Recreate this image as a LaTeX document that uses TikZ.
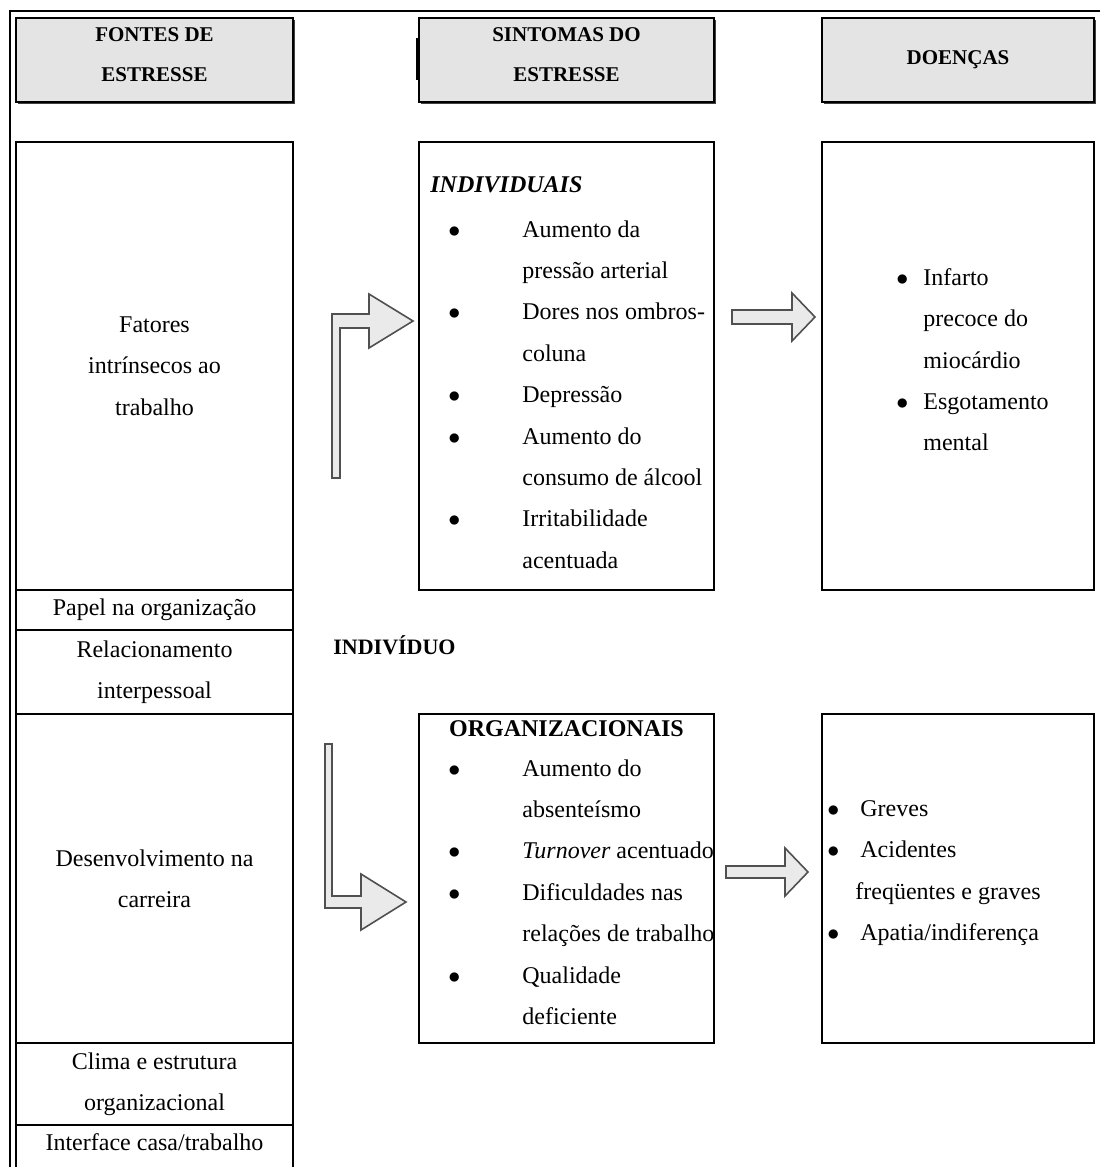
\documentclass[tikz,border=0pt]{standalone}
\usepackage{fontspec}
\setmainfont{Liberation Serif}
\usetikzlibrary{positioning, shadows}

\definecolor{headgray}{RGB}{228,228,228}
\definecolor{arrowgray}{RGB}{234,234,234}
\definecolor{edgegray}{RGB}{80,80,80}

\newcommand{\blt}[1][37pt]{\makebox[#1][l]{$\bullet$}}
\newcommand{\bltgap}[1][37pt]{\hspace*{#1}}

\begin{document}
\begin{tikzpicture}[
  x=0.5pt,
  y=-0.5pt,
  body/.style={
    font=\fontsize{12}{20.7}\selectfont
  },
  box/.style={
    draw,
    rectangle,
    inner sep=0pt,
    outer sep=0pt,
    line width=0.8pt,
    anchor=north west
  },
  cell/.style={
    draw,
    rectangle,
    align=center,
    inner sep=0pt,
    outer sep=0pt,
    line width=0.8pt,
    minimum width=138.5pt,
    body
  },
  header/.style={
    box,
    fill=headgray,
    align=center,
    minimum height=42pt,
    font=\bfseries\fontsize{10.5}{20}\selectfont,
    drop shadow={shadow xshift=0.9pt, shadow yshift=-0.9pt, opacity=1, fill=black!75}
  },
  list/.style={
    anchor=north west,
    inner sep=0pt,
    align=left,
    body
  },
  title/.style={
    inner sep=0pt,
    font=\bfseries\fontsize{12}{14}\selectfont
  },
  blockarrow/.style={
    draw=edgegray,
    fill=arrowgray,
    line width=0.8pt,
    line join=miter
  }
]
\useasboundingbox (0,0) rectangle (1100,1167);

% Frame
\draw[line width=1.1pt] (1100,11) -- (10,11) -- (10,1167);
\draw[line width=1.2pt] (417,38) -- (417,80);

% Headers
\node[header, minimum width=138.5pt, text depth=5.5pt] (fontesHead) at (16,18) {FONTES DE\\ESTRESSE};
\node[header, minimum width=147.5pt, text depth=5.5pt] (sintomasHead) at (419,18) {SINTOMAS DO\\ESTRESSE};
\node[header, minimum width=136pt] (doencasHead) at (822,18) {DOENÇAS};

% Sources column
\node[cell, anchor=north west, minimum height=224pt] (fatores) at (16,142) {Fatores\\intrínsecos ao\\trabalho};
\node[cell, below=0pt of fatores, minimum height=20pt] (papel) {Papel na organização};
\node[cell, below=0pt of papel, minimum height=42pt] (relacionamento) {Relacionamento\\interpessoal};
\node[cell, below=0pt of relacionamento, minimum height=164.5pt] (carreira) {Desenvolvimento na\\carreira};
\node[cell, below=0pt of carreira, minimum height=41pt] (clima) {Clima e estrutura\\organizacional};
\node[cell, below=0pt of clima, minimum height=25pt, text height=8.5pt, text depth=8.5pt] (interface) {Interface casa/trabalho};

\node[title, anchor=west, font=\bfseries\fontsize{11}{13}\selectfont] (individuo) at (333,645) {INDIVÍDUO};

% Symptom and disease boxes
\node[box, minimum width=147.5pt, minimum height=224pt] (individuais) at (419,142) {};
\node[box, minimum width=136pt, minimum height=224pt] (doencasInd) at (822,142) {};
\node[box, minimum width=147.5pt, minimum height=164.5pt] (organizacionais) at (419,714) {};
\node[box, minimum width=136pt, minimum height=164.5pt] (doencasOrg) at (822,714) {};

% Box contents
\node[title, anchor=west, font=\bfseries\itshape\fontsize{12}{14}\selectfont] (indTitle) at (430,185) {INDIVIDUAIS};
\node[list] (indList) at (448,220) {\blt Aumento da\\ \bltgap pressão arterial\\ \blt Dores nos ombros-\\ \bltgap coluna\\ \blt Depressão\\ \blt Aumento do\\ \bltgap consumo de álcool\\ \blt Irritabilidade\\ \bltgap acentuada};
\node[list] (indDoencas) at (896,268) {\blt[13.5pt]Infarto\\ \bltgap[13.5pt]precoce do\\ \bltgap[13.5pt]miocárdio\\ \blt[13.5pt]Esgotamento\\ \bltgap[13.5pt]mental};

\node[title] (orgTitle) at (566.5,729) {ORGANIZACIONAIS};
\node[list] (orgList) at (448,759) {\blt Aumento do\\ \bltgap absenteísmo\\ \blt \textit{Turnover} acentuado\\ \blt Dificuldades nas\\ \bltgap relações de trabalho\\ \blt Qualidade\\ \bltgap deficiente};
\node[list] (orgDoencas) at (827,800) {\blt[16.5pt]Greves\\ \blt[16.5pt]Acidentes\\ \bltgap[14pt]freqüentes e graves\\ \blt[16.5pt]Apatia/indiferença};

% Block arrows
\draw[blockarrow] (332,478) -- (332,314) -- (369,314) -- (369,294) -- (413,321) -- (369,348) -- (369,328) -- (340,328) -- (340,478) -- cycle;
\draw[blockarrow] (732,310) -- (792,310) -- (792,293) -- (815,317) -- (792,341) -- (792,324) -- (732,324) -- cycle;
\draw[blockarrow] (325,744) -- (332,744) -- (332,896) -- (361,896) -- (361,874) -- (406,902) -- (361,930) -- (361,908) -- (325,908) -- cycle;
\draw[blockarrow] (726,866) -- (785,866) -- (785,848) -- (808,872) -- (785,896) -- (785,878) -- (726,878) -- cycle;

\end{tikzpicture}
\end{document}
